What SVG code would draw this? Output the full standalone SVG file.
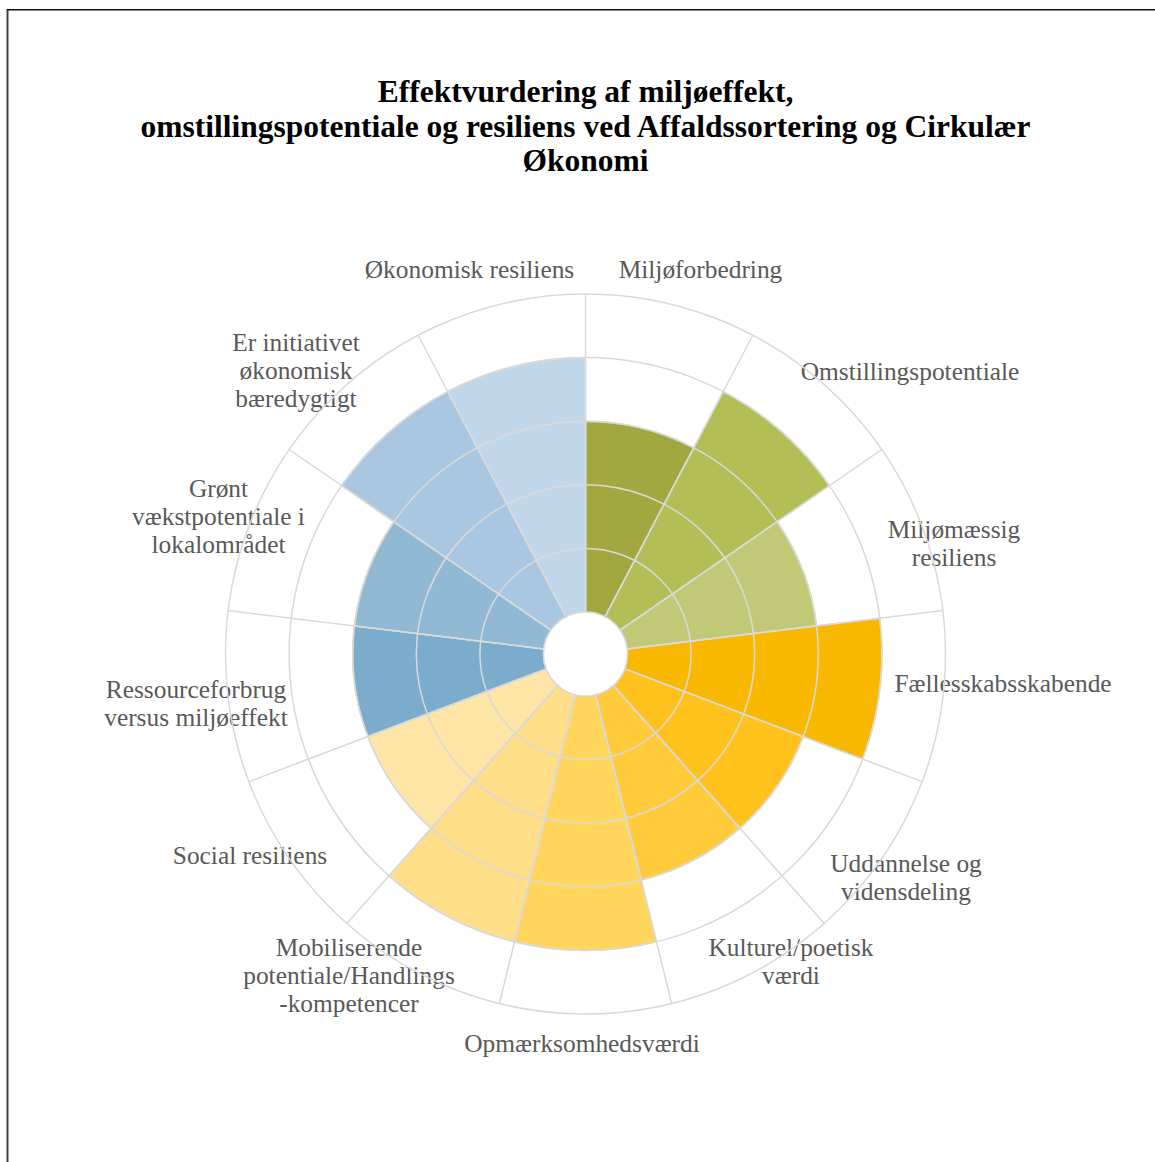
<svg xmlns="http://www.w3.org/2000/svg" width="1155" height="1162" viewBox="0 0 1155 1162">
<style>
.title{font-family:"Liberation Serif",serif;font-weight:bold;font-size:31.5px;fill:#000;text-anchor:middle}
.lbl{font-family:"Liberation Serif",serif;font-size:25.4px;fill:#595959;text-anchor:middle}
.wedge{stroke:#D9D9D9;stroke-width:1.5}
.grid{fill:none;stroke:#D9D9D9;stroke-width:1.5}
</style>
<rect x="0" y="0" width="1155" height="1162" fill="#fff"/>
<g id="border">
<line x1="7.5" y1="9" x2="7.5" y2="1162" stroke="#404040" stroke-width="2"/>
<line x1="7" y1="9.8" x2="1155" y2="9.8" stroke="#111" stroke-width="1.6"/>
</g>
<g id="title">
<text class="title" x="585.5" y="102">Effektvurdering af miljøeffekt,</text>
<text class="title" x="585.5" y="137">omstillingspotentiale og resiliens ved Affaldssortering og Cirkulær</text>
<text class="title" x="585.5" y="171">Økonomi</text>
</g>
<g id="sector-miljoforbedring">
<path class="wedge" fill="#A2A83F" d="M585.5,421.2 A232.8,232.8 0 0 1 693.69,447.87 L605.02,616.81 A42,42 0 0 0 585.5,612 Z"/>
<text class="lbl" x="700.5" y="278">Miljøforbedring</text>
</g>
<g id="sector-omstillingspotentiale">
<path class="wedge" fill="#B3BE57" d="M723.24,391.55 A296.4,296.4 0 0 1 829.43,485.63 L620.07,630.14 A42,42 0 0 0 605.02,616.81 Z"/>
<text class="lbl" x="910" y="380">Omstillingspotentiale</text>
</g>
<g id="sector-miljomaessig-resiliens">
<path class="wedge" fill="#C1C977" d="M777.09,521.76 A232.8,232.8 0 0 1 816.6,625.94 L627.19,648.94 A42,42 0 0 0 620.07,630.14 Z"/>
<text class="lbl" x="954" y="538">Miljømæssig</text>
<text class="lbl" x="954" y="566">resiliens</text>
</g>
<g id="sector-faellesskabsskabende">
<path class="wedge" fill="#F9B800" d="M879.74,618.27 A296.4,296.4 0 0 1 862.64,759.1 L624.77,668.89 A42,42 0 0 0 627.19,648.94 Z"/>
<text class="lbl" x="1003" y="692">Fællesskabsskabende</text>
</g>
<g id="sector-uddannelse">
<path class="wedge" fill="#FFC21C" d="M803.17,736.55 A232.8,232.8 0 0 1 739.87,828.25 L613.35,685.44 A42,42 0 0 0 624.77,668.89 Z"/>
<text class="lbl" x="906" y="872">Uddannelse og</text>
<text class="lbl" x="906" y="900">vidensdeling</text>
</g>
<g id="sector-kulturel">
<path class="wedge" fill="#FFCB3B" d="M739.87,828.25 A232.8,232.8 0 0 1 641.21,880.03 L595.55,694.78 A42,42 0 0 0 613.35,685.44 Z"/>
<text class="lbl" x="791" y="956">Kulturel/poetisk</text>
<text class="lbl" x="791" y="984">værdi</text>
</g>
<g id="sector-opmaerksomhedsvaerdi">
<path class="wedge" fill="#FFD55B" d="M656.43,941.79 A296.4,296.4 0 0 1 514.57,941.79 L575.45,694.78 A42,42 0 0 0 595.55,694.78 Z"/>
<text class="lbl" x="582" y="1052">Opmærksomhedsværdi</text>
</g>
<g id="sector-mobiliserende">
<path class="wedge" fill="#FFDE8A" d="M514.57,941.79 A296.4,296.4 0 0 1 388.95,875.86 L557.65,685.44 A42,42 0 0 0 575.45,694.78 Z"/>
<text class="lbl" x="349" y="956">Mobiliserende</text>
<text class="lbl" x="349" y="984">potentiale/Handlings</text>
<text class="lbl" x="349" y="1012">-kompetencer</text>
</g>
<g id="sector-social-resiliens">
<path class="wedge" fill="#FFE6A7" d="M431.13,828.25 A232.8,232.8 0 0 1 367.83,736.55 L546.23,668.89 A42,42 0 0 0 557.65,685.44 Z"/>
<text class="lbl" x="250" y="864">Social resiliens</text>
</g>
<g id="sector-ressourceforbrug">
<path class="wedge" fill="#7BACCB" d="M367.83,736.55 A232.8,232.8 0 0 1 354.4,625.94 L543.81,648.94 A42,42 0 0 0 546.23,668.89 Z"/>
<text class="lbl" x="196" y="698">Ressourceforbrug</text>
<text class="lbl" x="196" y="726">versus miljøeffekt</text>
</g>
<g id="sector-groent-vaekstpotentiale">
<path class="wedge" fill="#92B9D4" d="M354.4,625.94 A232.8,232.8 0 0 1 393.91,521.76 L550.93,630.14 A42,42 0 0 0 543.81,648.94 Z"/>
<text class="lbl" x="218.5" y="497">Grønt</text>
<text class="lbl" x="218.5" y="525">vækstpotentiale i</text>
<text class="lbl" x="218.5" y="553">lokalområdet</text>
</g>
<g id="sector-er-initiativet">
<path class="wedge" fill="#A9C7E0" d="M341.57,485.63 A296.4,296.4 0 0 1 447.76,391.55 L565.98,616.81 A42,42 0 0 0 550.93,630.14 Z"/>
<text class="lbl" x="296" y="351">Er initiativet</text>
<text class="lbl" x="296" y="379">økonomisk</text>
<text class="lbl" x="296" y="407">bæredygtigt</text>
</g>
<g id="sector-okonomisk-resiliens">
<path class="wedge" fill="#C0D7EA" d="M447.76,391.55 A296.4,296.4 0 0 1 585.5,357.6 L585.5,612 A42,42 0 0 0 565.98,616.81 Z"/>
<text class="lbl" x="469.5" y="278">Økonomisk resiliens</text>
</g>
<g id="connectors">
<circle class="grid" cx="585.5" cy="654" r="105.6"/>
<circle class="grid" cx="585.5" cy="654" r="169.2"/>
<circle class="grid" cx="585.5" cy="654" r="232.8"/>
<circle class="grid" cx="585.5" cy="654" r="296.4"/>
<circle class="grid" cx="585.5" cy="654" r="360"/>
<path class="grid" d="M585.5,612 L585.5,294 M605.02,616.81 L752.8,335.23 M620.07,630.14 L881.77,449.5 M627.19,648.94 L942.88,610.61 M624.77,668.89 L922.11,781.66 M613.35,685.44 L824.22,923.46 M595.55,694.78 L671.66,1003.54 M575.45,694.78 L499.34,1003.54 M557.65,685.44 L346.78,923.46 M546.23,668.89 L248.89,781.66 M543.81,648.94 L228.12,610.61 M550.93,630.14 L289.23,449.5 M565.98,616.81 L418.2,335.23"/>
<circle cx="585.5" cy="654" r="42" fill="#fff" stroke="#D9D9D9" stroke-width="1.5"/>
</g>
</svg>
